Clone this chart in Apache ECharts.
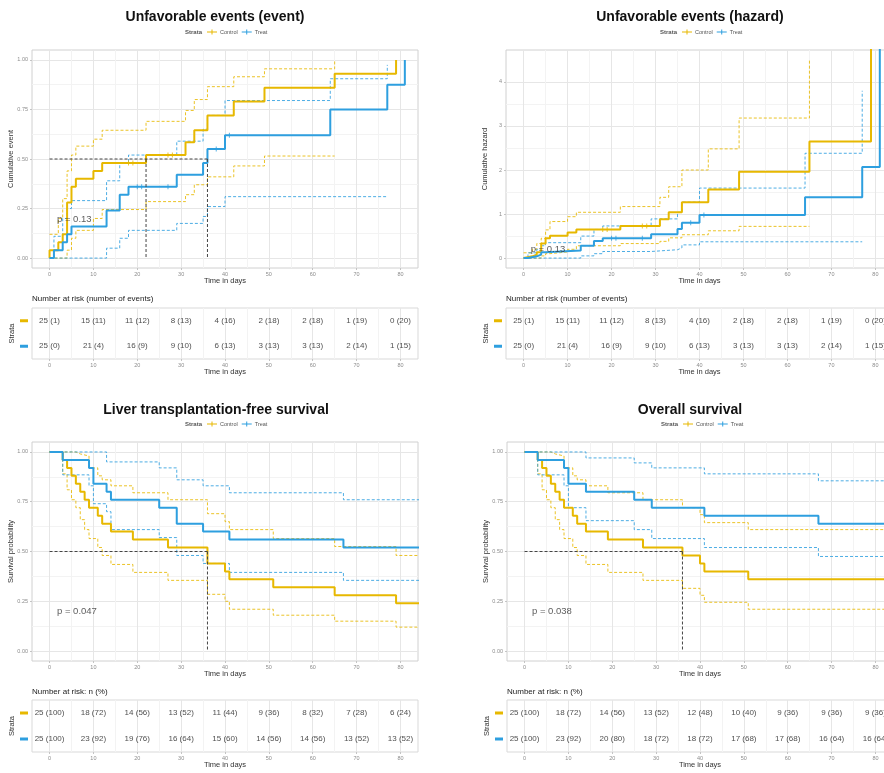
<!DOCTYPE html>
<html>
<head>
<meta charset="utf-8">
<script src="https://cdn.jsdelivr.net/npm/echarts@6/dist/echarts.min.js"></script>
<style>
  html, body { margin: 0; padding: 0; background: #fff; }
  #chart { width: 884px; height: 773px; }
</style>
</head>
<body>
<div id="chart"></div>
<script>
// ---------- data: [day, value] steps ----------
// Unfavorable events, cumulative event
const evtCtrl = [[0,0],[0,0.04],[2,0.08],[3,0.12],[4,0.28],[5,0.36],[6,0.40],[10,0.44],[12,0.48],[22,0.52],[31,0.585],[33,0.645],[36,0.72],[42,0.79],[49,0.86],[65,0.93],[79,1.0]];
const evtCtrlUp = [[0,0.12],[2,0.2],[3,0.3],[4,0.44],[5,0.52],[6,0.565],[10,0.6],[12,0.645],[22,0.69],[31,0.745],[33,0.8],[36,0.865],[42,0.915],[49,0.955],[65,1.0]];
const evtCtrlLo = [[0,0],[4,0.04],[5,0.1],[6,0.14],[10,0.2],[12,0.245],[22,0.285],[31,0.32],[33,0.37],[36,0.41],[42,0.465],[49,0.515],[65,0.515]];
const evtTreat = [[0,0],[1,0.04],[3,0.08],[4,0.12],[5,0.16],[13,0.24],[16,0.32],[18,0.36],[29,0.42],[35,0.48],[36,0.55],[40,0.62],[64,0.75],[77,0.875],[81,1.0]];
const evtTreatUp = [[0,0],[1,0.11],[3,0.2],[4,0.25],[5,0.29],[13,0.39],[16,0.48],[18,0.52],[29,0.59],[35,0.65],[36,0.72],[40,0.795],[64,0.905],[77,0.975]];
const evtTreatLo = [[0,0],[13,0.05],[16,0.1],[18,0.14],[29,0.175],[35,0.21],[36,0.26],[40,0.31],[77,0.31]];
const evtCensCtrl = [[18,0.48],[19,0.48],[27,0.52],[28,0.52]];
const evtCensTreat = [[20,0.36],[21,0.36],[27,0.36],[38,0.55],[41,0.62]];
const evtMedian = [22, 36];

// Unfavorable events, cumulative hazard (last step runs off the top)
const hazCtrl = [[0,0],[0,0.04],[2,0.08],[3,0.13],[4,0.33],[5,0.45],[6,0.51],[10,0.58],[12,0.65],[22,0.73],[31,0.88],[33,1.04],[36,1.27],[42,1.56],[49,1.96],[65,2.65],[79,6]];
const hazCtrlUp = [[0,0.12],[2,0.2],[3,0.33],[4,0.45],[5,0.64],[6,0.83],[10,0.94],[12,1.04],[22,1.17],[31,1.38],[33,1.62],[36,2.0],[42,2.48],[49,3.18],[65,4.5]];
const hazCtrlLo = [[0,0],[4,0.05],[5,0.1],[6,0.14],[10,0.2],[12,0.28],[22,0.33],[31,0.38],[33,0.46],[36,0.53],[42,0.62],[49,0.72],[65,0.72]];
const hazTreat = [[0,0],[1,0.04],[3,0.08],[4,0.13],[5,0.17],[13,0.28],[16,0.39],[18,0.45],[29,0.54],[35,0.66],[36,0.8],[40,0.98],[64,1.38],[77,2.07],[81,6]];
const hazTreatUp = [[0,0],[1,0.12],[3,0.2],[4,0.28],[5,0.35],[13,0.5],[16,0.65],[18,0.73],[29,0.89],[35,1.04],[36,1.27],[40,1.59],[64,2.38],[77,3.8]];
const hazTreatLo = [[0,0],[13,0.05],[16,0.1],[18,0.15],[29,0.19],[35,0.23],[36,0.3],[40,0.37],[77,0.37]];
const hazCensCtrl = [[18,0.65],[19,0.65],[27,0.73],[28,0.73]];
const hazCensTreat = [[20,0.45],[21,0.45],[27,0.45],[38,0.8],[41,0.98]];

// Liver transplantation-free survival
const ltfsCtrl = [[0,1],[3,0.96],[4,0.92],[5,0.88],[6,0.84],[7,0.80],[8,0.76],[9,0.72],[11,0.68],[12,0.64],[14,0.60],[19,0.56],[27,0.52],[36,0.44],[40,0.40],[41,0.36],[51,0.32],[65,0.28],[79,0.24],[85,0.24]];
const ltfsCtrlUp = [[0,1],[6,0.99],[7,0.98],[9,0.92],[11,0.88],[12,0.86],[14,0.83],[19,0.795],[27,0.76],[36,0.69],[40,0.65],[41,0.61],[51,0.565],[65,0.525],[79,0.48],[85,0.48]];
const ltfsCtrlLo = [[0,1],[3,0.89],[4,0.81],[5,0.76],[6,0.72],[7,0.66],[8,0.61],[9,0.565],[11,0.52],[12,0.48],[14,0.435],[19,0.395],[27,0.355],[36,0.285],[40,0.25],[41,0.21],[51,0.18],[65,0.15],[79,0.12],[85,0.12]];
const ltfsTreat = [[0,1],[3,0.96],[9,0.92],[10,0.84],[13,0.80],[14,0.76],[25,0.72],[29,0.64],[35,0.60],[41,0.56],[67,0.52],[85,0.52]];
const ltfsTreatUp = [[0,1],[13,0.95],[25,0.92],[29,0.86],[35,0.83],[41,0.795],[67,0.76],[85,0.76]];
const ltfsTreatLo = [[0,1],[3,0.885],[9,0.83],[10,0.74],[13,0.70],[14,0.61],[25,0.57],[29,0.48],[35,0.44],[41,0.395],[67,0.355],[85,0.355]];
const ltfsMedian = [36];

// Overall survival
const osCtrl = [[0,1],[3,0.96],[4,0.92],[5,0.88],[6,0.84],[7,0.80],[8,0.76],[9,0.72],[11,0.68],[12,0.64],[14,0.60],[19,0.56],[27,0.52],[36,0.48],[40,0.44],[41,0.40],[51,0.36],[90,0.36]];
const osCtrlUp = [[0,1],[6,0.99],[7,0.98],[9,0.92],[11,0.88],[12,0.86],[14,0.83],[19,0.795],[27,0.76],[36,0.72],[40,0.685],[41,0.645],[51,0.61],[90,0.61]];
const osCtrlLo = [[0,1],[3,0.89],[4,0.81],[5,0.76],[6,0.72],[7,0.66],[8,0.61],[9,0.565],[11,0.52],[12,0.48],[14,0.435],[19,0.395],[27,0.355],[36,0.315],[40,0.28],[41,0.245],[51,0.21],[90,0.21]];
const osTreat = [[0,1],[3,0.96],[9,0.92],[10,0.84],[14,0.80],[25,0.76],[29,0.72],[41,0.68],[67,0.64],[90,0.64]];
const osTreatUp = [[0,1],[14,0.97],[25,0.945],[29,0.92],[41,0.89],[67,0.855],[90,0.855]];
const osTreatLo = [[0,1],[3,0.885],[9,0.83],[10,0.72],[14,0.655],[25,0.61],[29,0.565],[41,0.52],[67,0.475],[90,0.475]];
const osMedian = [36];

// risk tables
const riskDays = [0, 10, 20, 30, 40, 50, 60, 70, 80];
const evtAtRiskCtrl = [25, 15, 11, 8, 4, 2, 2, 1, 0];
const evtEventsCtrl = [1, 11, 12, 13, 16, 18, 18, 19, 20];
const evtAtRiskTreat = [25, 21, 16, 9, 6, 3, 3, 2, 1];
const evtEventsTreat = [0, 4, 9, 10, 13, 13, 13, 14, 15];
const ltfsAtRiskCtrl = [25, 18, 14, 13, 11, 9, 8, 7, 6];
const ltfsPctCtrl = [100, 72, 56, 52, 44, 36, 32, 28, 24];
const ltfsAtRiskTreat = [25, 23, 19, 16, 15, 14, 14, 13, 13];
const ltfsPctTreat = [100, 92, 76, 64, 60, 56, 56, 52, 52];
const osAtRiskCtrl = [25, 18, 14, 13, 12, 10, 9, 9, 9];
const osPctCtrl = [100, 72, 56, 52, 48, 40, 36, 36, 36];
const osAtRiskTreat = [25, 23, 20, 18, 18, 17, 17, 16, 16];
const osPctTreat = [100, 92, 80, 72, 72, 68, 68, 64, 64];

// ---------- styling / layout ----------
const STRATA = ['Control', 'Treat'];
const COLOR = { Control: '#E7B800', Treat: '#2E9FDF' };
const FONT = "'Liberation Sans', Arial, sans-serif";
const X_RANGE = [-4, 84];   // 0..80 plus ggplot's 5% expansion
const X_TICKS = [0, 80, 10];

const grids = [], xAxis = [], yAxis = [], series = [], title = [], legend = [];

const hidden = () => ({
  axisLine: { show: false }, axisTick: { show: false },
  axisLabel: { show: false }, splitLine: { show: false }
});
const tickLabel = { fontSize: 5.5, color: '#8c8c8c', fontFamily: FONT };
const axisTitle = { fontSize: 7.5, color: '#333', fontFamily: FONT };

function addGrid(r) {
  grids.push(Object.assign({ containLabel: false, outerBoundsMode: 'none', show: false }, r));
  return grids.length - 1;
}
function addAxes(g, xa, ya) {
  xAxis.push(Object.assign({ gridIndex: g, type: 'value' }, xa));
  yAxis.push(Object.assign({ gridIndex: g, type: 'value' }, ya));
  return [xAxis.length - 1, yAxis.length - 1];
}

// x tick labels + vertical grid lines, on a grid that covers only 0..80
function xGuideGrid(b) {
  const kx = b.width / (X_RANGE[1] - X_RANGE[0]);
  const g = addGrid({ left: b.left - X_RANGE[0] * kx, width: (X_TICKS[1] - X_TICKS[0]) * kx, top: b.top, height: b.height });
  addAxes(g, {
    min: X_TICKS[0], max: X_TICKS[1], interval: X_TICKS[2],
    axisLine: { show: false },
    axisTick: { show: true, length: 2, lineStyle: { color: '#c4c4c4' } },
    axisLabel: Object.assign({ margin: 3 }, tickLabel),
    splitLine: { show: true, lineStyle: { color: '#e6e6e6', width: 1 } },
    minorTick: { show: false, splitNumber: 2 },
    minorSplitLine: { show: true, lineStyle: { color: '#f3f3f3', width: 1 } }
  }, Object.assign({ min: 0, max: 1 }, hidden()));
}

function plotPanel(p) {
  const b = p.box, Y = p.yRange, T = p.yTicks;
  const ky = b.height / (Y[1] - Y[0]);

  // y tick labels + horizontal grid lines (full panel width)
  const gy = addGrid({ left: b.left, width: b.width, top: b.top + (Y[1] - T[1]) * ky, height: (T[1] - T[0]) * ky });
  addAxes(gy, Object.assign({ min: 0, max: 1 }, hidden()), {
    min: T[0], max: T[1], interval: T[2],
    axisLine: { show: false },
    axisTick: { show: true, length: 2, lineStyle: { color: '#c4c4c4' } },
    axisLabel: Object.assign({ margin: 4, formatter: p.yFmt }, tickLabel),
    splitLine: { show: true, lineStyle: { color: '#e6e6e6', width: 1 } },
    minorTick: { show: false, splitNumber: 2 },
    minorSplitLine: { show: true, lineStyle: { color: '#f3f3f3', width: 1 } }
  });
  xGuideGrid(b);

  // data grid: the whole panel with its border
  const g = addGrid({ left: b.left, width: b.width, top: b.top, height: b.height, show: true,
    borderColor: '#d0d0d0', borderWidth: 1, backgroundColor: 'transparent' });
  const [xi, yi] = addAxes(g,
    Object.assign({ min: X_RANGE[0], max: X_RANGE[1], name: 'Time in days', nameLocation: 'middle', nameGap: 9, nameTextStyle: axisTitle }, hidden()),
    Object.assign({ min: Y[0], max: Y[1], name: p.yName, nameLocation: 'middle', nameGap: 17, nameTextStyle: axisTitle }, hidden()));

  const line = (name, data, color, main) => series.push({
    name, type: 'line', xAxisIndex: xi, yAxisIndex: yi, data, step: 'end',
    showSymbol: false, symbol: 'none', silent: true, clip: true, color,
    lineStyle: main ? { width: 2, color } : { width: 1, color, type: [3, 2], opacity: 0.85 },
    z: main ? 4 : 3
  });
  STRATA.forEach(s => {
    const c = p.curves[s];
    line(s + ' upper', c.up, COLOR[s], false);
    line(s + ' lower', c.lo, COLOR[s], false);
    line(s, c.est, COLOR[s], true);
    if (c.cens) series.push({
      type: 'scatter', xAxisIndex: xi, yAxisIndex: yi, data: c.cens, silent: true,
      symbol: 'rect', symbolSize: [1, 5], itemStyle: { color: COLOR[s] }, z: 5
    });
  });

  if (p.median) {
    const dash = { width: 1, color: '#444', type: [3, 2] };
    const seg = d => series.push({ type: 'line', xAxisIndex: xi, yAxisIndex: yi, data: d,
      symbol: 'none', silent: true, lineStyle: dash, z: 6 });
    seg([[0, 0.5], [Math.max(...p.median), 0.5]]);
    p.median.forEach(m => seg([[m, 0.5], [m, 0]]));
  }

  series.push({
    type: 'scatter', xAxisIndex: xi, yAxisIndex: yi, symbolSize: 0, silent: true, z: 7,
    data: [{ value: p.pAt, name: p.pText }],
    label: { show: true, position: 'right', distance: 0, formatter: '{b}', fontSize: 9.5, color: '#333', fontFamily: FONT }
  });

  title.push({ text: p.title, left: p.titleX, top: p.titleY, textAlign: 'center', textVerticalAlign: 'middle', padding: 0,
    textStyle: { fontFamily: FONT, fontWeight: 'bold', fontSize: 14, color: '#111' } });
  title.push({ text: 'Strata', left: p.legX, top: p.legY, textVerticalAlign: 'middle', padding: 0,
    textStyle: { fontFamily: FONT, fontWeight: 'bold', fontSize: 6, color: '#555' } });
  legend.push({
    data: STRATA.map(s => ({ name: s, icon: 'path://M0,4H20V6H0Z M9,0H11V10H9Z' })),
    left: p.legX + 22, top: p.legY - 3, padding: 0, itemWidth: 10, itemHeight: 6, itemGap: 4,
    selectedMode: false, textStyle: { fontSize: 5.5, color: '#555', fontFamily: FONT, padding: [0, 0, 0, -2] }
  });
}

function riskTable(t) {
  const b = t.box;
  xGuideGrid(b);
  const g = addGrid({ left: b.left, width: b.width, top: b.top, height: b.height, show: true,
    borderColor: '#d9d9d9', borderWidth: 1, backgroundColor: 'transparent' });
  xAxis.push(Object.assign({ gridIndex: g, type: 'value', min: X_RANGE[0], max: X_RANGE[1],
    name: 'Time in days', nameLocation: 'middle', nameGap: 9, nameTextStyle: axisTitle }, hidden()));
  yAxis.push({
    gridIndex: g, type: 'category', data: STRATA, inverse: true,
    axisLine: { show: false }, axisTick: { show: false }, splitLine: { show: false },
    axisLabel: {
      margin: 4,
      formatter: v => (v === 'Control' ? '{c| }' : '{t| }'),
      rich: {
        c: { backgroundColor: COLOR.Control, width: 8, height: 3, lineHeight: 3 },
        t: { backgroundColor: COLOR.Treat, width: 8, height: 3, lineHeight: 3 }
      }
    },
    name: 'Strata', nameLocation: 'middle', nameGap: 14, nameTextStyle: axisTitle
  });
  const xi = xAxis.length - 1, yi = yAxis.length - 1;
  STRATA.forEach((s, ri) => series.push({
    type: 'scatter', xAxisIndex: xi, yAxisIndex: yi, symbolSize: 0, silent: true,
    data: riskDays.map((d, i) => ({ value: [d, ri], name: t.cells[s][i] })),
    label: { show: true, position: 'inside', formatter: '{b}', fontSize: 8, color: '#222', fontFamily: FONT }
  }));
  title.push({ text: t.heading, left: b.left, top: t.headY, textVerticalAlign: 'middle', padding: 0,
    textStyle: { fontFamily: FONT, fontWeight: 'normal', fontSize: 8, color: '#222' } });
}

const cellsEvents = (n, e) => n.map((v, i) => v + ' (' + e[i] + ')');
const fmt2 = v => v.toFixed(2);

// ---------- the four panels ----------
plotPanel({
  box: { left: 32, top: 50, width: 386, height: 218 },
  yRange: [-0.05, 1.05], yTicks: [0, 1, 0.25], yFmt: fmt2, yName: 'Cumulative event',
  curves: {
    Control: { est: evtCtrl, up: evtCtrlUp, lo: evtCtrlLo, cens: evtCensCtrl },
    Treat: { est: evtTreat, up: evtTreatUp, lo: evtTreatLo, cens: evtCensTreat }
  },
  median: evtMedian, pText: 'p = 0.13', pAt: [1.7, 0.197],
  title: 'Unfavorable events (event)', titleX: 215, titleY: 17, legX: 185, legY: 32
});
plotPanel({
  box: { left: 506, top: 50, width: 387, height: 218 },
  yRange: [-0.225, 4.725], yTicks: [0, 4, 1], yFmt: v => String(v), yName: 'Cumulative hazard',
  curves: {
    Control: { est: hazCtrl, up: hazCtrlUp, lo: hazCtrlLo, cens: hazCensCtrl },
    Treat: { est: hazTreat, up: hazTreatUp, lo: hazTreatLo, cens: hazCensTreat }
  },
  pText: 'p = 0.13', pAt: [1.6, 0.19],
  title: 'Unfavorable events (hazard)', titleX: 690, titleY: 17, legX: 660, legY: 32
});
plotPanel({
  box: { left: 32, top: 442, width: 386, height: 219 },
  yRange: [-0.05, 1.05], yTicks: [0, 1, 0.25], yFmt: fmt2, yName: 'Survival probability',
  curves: {
    Control: { est: ltfsCtrl, up: ltfsCtrlUp, lo: ltfsCtrlLo },
    Treat: { est: ltfsTreat, up: ltfsTreatUp, lo: ltfsTreatLo }
  },
  median: ltfsMedian, pText: 'p = 0.047', pAt: [1.7, 0.197],
  title: 'Liver transplantation-free survival', titleX: 216, titleY: 410, legX: 185, legY: 424
});
plotPanel({
  box: { left: 507, top: 442, width: 386, height: 219 },
  yRange: [-0.05, 1.05], yTicks: [0, 1, 0.25], yFmt: fmt2, yName: 'Survival probability',
  curves: {
    Control: { est: osCtrl, up: osCtrlUp, lo: osCtrlLo },
    Treat: { est: osTreat, up: osTreatUp, lo: osTreatLo }
  },
  median: osMedian, pText: 'p = 0.038', pAt: [1.7, 0.197],
  title: 'Overall survival', titleX: 690, titleY: 410, legX: 661, legY: 424
});

riskTable({
  box: { left: 32, top: 308, width: 386, height: 51 }, heading: 'Number at risk (number of events)', headY: 299,
  cells: { Control: cellsEvents(evtAtRiskCtrl, evtEventsCtrl), Treat: cellsEvents(evtAtRiskTreat, evtEventsTreat) }
});
riskTable({
  box: { left: 506, top: 308, width: 387, height: 51 }, heading: 'Number at risk (number of events)', headY: 299,
  cells: { Control: cellsEvents(evtAtRiskCtrl, evtEventsCtrl), Treat: cellsEvents(evtAtRiskTreat, evtEventsTreat) }
});
riskTable({
  box: { left: 32, top: 700, width: 386, height: 52 }, heading: 'Number at risk: n (%)', headY: 692,
  cells: { Control: cellsEvents(ltfsAtRiskCtrl, ltfsPctCtrl), Treat: cellsEvents(ltfsAtRiskTreat, ltfsPctTreat) }
});
riskTable({
  box: { left: 507, top: 700, width: 386, height: 52 }, heading: 'Number at risk: n (%)', headY: 692,
  cells: { Control: cellsEvents(osAtRiskCtrl, osPctCtrl), Treat: cellsEvents(osAtRiskTreat, osPctTreat) }
});

const chart = echarts.init(document.getElementById('chart'), null, { renderer: 'canvas' });
chart.setOption({
  backgroundColor: '#ffffff',
  animation: false,
  textStyle: { fontFamily: FONT },
  title, legend, grid: grids, xAxis, yAxis, series
});
</script>
</body>
</html>
